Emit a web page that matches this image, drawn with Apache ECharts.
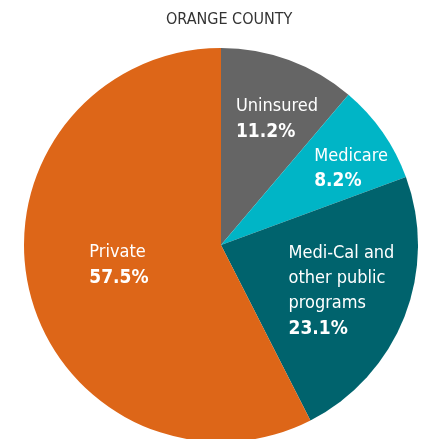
<!DOCTYPE html>
<html><head><meta charset="utf-8">
<script src="https://cdn.jsdelivr.net/npm/echarts@6/dist/echarts.min.js"></script>
<style>html,body{margin:0;padding:0;background:#fff}#c{width:426px;height:439px}</style>
</head><body><div id="c"></div>
<script>
const title = 'ORANGE COUNTY';
const categories = ['Uninsured', 'Medicare', 'Medi-Cal and\nother public\nprograms', 'Private'];
const values = [11.2, 8.2, 23.1, 57.5];
const colors = ['#656565', '#00b5c6', '#00636d', '#dd6618'];
const labelShift = [[-20, -30], [10, -18], [-27, 9], [-33, -3]];

const font = '"DejaVu Sans Condensed", "DejaVu Sans", sans-serif';
const chart = echarts.init(document.getElementById('c'));
chart.setOption({
  animation: false,
  title: {
    text: title, left: 161, top: 7,
    textStyle: { fontFamily: font, fontSize: 16, fontWeight: 'normal', color: '#333' }
  },
  series: [{
    type: 'pie',
    center: [221, 245],
    radius: 197,
    startAngle: 90,
    clockwise: true,
    data: categories.map((c, i) => ({ name: c, value: values[i], itemStyle: { color: colors[i] } })),
    label: {
      position: 'inner',
      fontFamily: font,
      formatter: p => p.name.split('\n').map(s => '{n|' + s + '}').join('\n') + '\n{v|' + p.value.toFixed(1) + '%}',
      rich: {
        n: { fontFamily: font, fontSize: 18, color: '#fff', lineHeight: 25, align: 'left' },
        v: { fontFamily: font, fontSize: 19, fontWeight: 'bold', color: '#fff', lineHeight: 26, align: 'left' }
      }
    },
    labelLine: { show: false },
    labelLayout: p => ({ dx: labelShift[p.dataIndex][0], dy: labelShift[p.dataIndex][1], align: 'left' }),
    emphasis: { disabled: true }
  }]
});
</script></body></html>
